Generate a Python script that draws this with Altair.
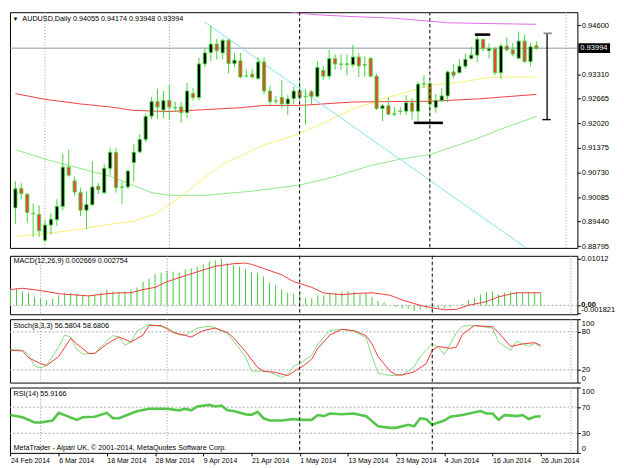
import altair as alt
import pandas as pd

# ---------------- data (AUDUSD daily, bars 0..88 = 24 Feb .. 26 Jun 2014)
OPEN = [0.8980,0.9031,0.9016,0.8966,0.8963,0.8895,0.8935,0.8949,0.8984,0.9087,
        0.9051,0.9020,0.8974,0.8988,0.9037,0.9020,0.9084,0.9126,0.9034,0.9035,
        0.9099,0.9127,0.9160,0.9221,0.9259,0.9237,0.9262,0.9243,0.9245,0.9230,
        0.9280,0.9270,0.9358,0.9388,0.9410,0.9387,0.9420,0.9359,0.9366,0.9326,
        0.9331,0.9320,0.9363,0.9287,0.9261,0.9270,0.9253,0.9267,0.9287,0.9273,
        0.9285,0.9273,0.9341,0.9326,0.9372,0.9358,0.9357,0.9356,0.9376,0.9355,
        0.9372,0.9326,0.9241,0.9248,0.9226,0.9233,0.9234,0.9256,0.9234,0.9306,
        0.9306,0.9244,0.9262,0.9274,0.9337,0.9335,0.9352,0.9372,0.9381,0.9422,
        0.9393,0.9398,0.9335,0.9405,0.9395,0.9373,0.9418,0.9364,0.94055]
HIGH = [0.9050,0.9045,0.9018,0.8991,0.8987,0.8947,0.8966,0.9003,0.9122,0.9133,
        0.9062,0.9033,0.9024,0.9103,0.9045,0.9095,0.9137,0.9137,0.9049,0.9078,
        0.9148,0.9174,0.9228,0.9271,0.9293,0.9287,0.9303,0.9258,0.9258,0.9308,
        0.9295,0.9374,0.9401,0.9459,0.9424,0.9424,0.9423,0.9387,0.9387,0.9343,
        0.9345,0.9376,0.9376,0.9301,0.9274,0.9316,0.9276,0.9298,0.9312,0.9291,
        0.9289,0.9366,0.9353,0.9395,0.9383,0.9383,0.9383,0.9408,0.9387,0.9378,
        0.9376,0.9333,0.9253,0.9270,0.9245,0.9245,0.9276,0.9268,0.9312,0.9328,
        0.9312,0.9279,0.9295,0.9341,0.9358,0.9370,0.9385,0.9403,0.9433,0.9424,
        0.9412,0.9402,0.9412,0.9428,0.9413,0.9443,0.9435,0.9412,0.94174]
LOW = [0.8938,0.9003,0.8941,0.8903,0.8903,0.8891,0.8910,0.8933,0.8974,0.9062,
       0.9012,0.8958,0.8924,0.8988,0.9016,0.9016,0.9066,0.9020,0.8991,0.9030,
       0.9049,0.9124,0.9153,0.9213,0.9214,0.9216,0.9212,0.9233,0.9203,0.9216,
       0.9262,0.9262,0.9349,0.9366,0.9370,0.9370,0.9333,0.9349,0.9320,0.9323,
       0.9320,0.9316,0.9278,0.9249,0.9253,0.9241,0.9224,0.9253,0.9262,0.9199,
       0.9253,0.9268,0.9316,0.9318,0.9343,0.9343,0.9328,0.9349,0.9324,0.9324,
       0.9323,0.9237,0.9208,0.9223,0.9220,0.9224,0.9224,0.9212,0.9208,0.9295,
       0.9224,0.9230,0.9258,0.9258,0.9320,0.9333,0.9345,0.9370,0.9363,0.9391,
       0.9372,0.9328,0.9318,0.9391,0.9378,0.9370,0.9362,0.9352,0.93948]
CLOSE = [0.9030,0.9018,0.8968,0.8965,0.8920,0.8935,0.8950,0.8984,0.9087,0.9066,
         0.9022,0.8974,0.8989,0.9035,0.9028,0.9084,0.9126,0.9033,0.9035,0.9077,
         0.9126,0.9160,0.9220,0.9259,0.9245,0.9262,0.9245,0.9244,0.9230,0.9287,
         0.9270,0.9358,0.9387,0.9410,0.9393,0.9420,0.9359,0.9368,0.9324,0.9326,
         0.9324,0.9363,0.9287,0.9259,0.9260,0.9253,0.9266,0.9287,0.9270,0.9272,
         0.9273,0.9349,0.9326,0.9372,0.9358,0.9357,0.9358,0.9376,0.9353,0.9356,
         0.9326,0.9241,0.9248,0.9226,0.9227,0.9234,0.9256,0.9234,0.9305,0.9305,
         0.9253,0.9262,0.9274,0.9337,0.9328,0.9352,0.9370,0.9381,0.9423,0.9398,
         0.9398,0.9335,0.9405,0.9395,0.9384,0.9418,0.9364,0.9403,0.93994]

# moving averages (bar index, value)
MA_MAGENTA_BARS = [46, 48, 51, 56, 64, 70, 73, 80, 88]
MA_MAGENTA = [0.9496, 0.9491, 0.9487, 0.9483, 0.9478, 0.9470, 0.9466, 0.9464, 0.9462]
MA_RED_BARS = [0, 5, 11, 16, 20, 26, 32, 38, 42, 48, 57, 70, 78, 88]
MA_RED = [0.9280, 0.9265, 0.9253, 0.9245, 0.9236, 0.9233, 0.9238, 0.9243, 0.9249, 0.9249,
          0.9258, 0.9260, 0.9266, 0.9278]
MA_GREEN_BARS = [0, 5, 16, 23, 26, 32, 40, 48, 53, 60, 65, 70, 78, 82, 88]
MA_GREEN = [0.9133, 0.9108, 0.9063, 0.9020, 0.9013, 0.9013, 0.9024, 0.9040, 0.9058, 0.9091,
            0.9108, 0.9120, 0.9162, 0.9187, 0.9220]
MA_YELLOW_BARS = [0, 5, 9, 16, 20, 24, 26, 28, 32, 35, 42, 48, 53, 57, 63, 70, 76, 80, 88]
MA_YELLOW = [0.8905, 0.8913, 0.8920, 0.8937, 0.8945, 0.8966, 0.8990, 0.9010, 0.9060, 0.9095,
             0.9145, 0.9175, 0.9210, 0.9240, 0.9270, 0.9302, 0.9312, 0.9323, 0.9324]

# drawn objects
TREND_BARS = [31.95, 86.1]
TREND_PRICES = [0.9468, 0.88768]
MARK_FROM = [77.6, 67.3]
MARK_TO = [80.2, 72.2]
MARK_PRICE = [0.9435, 0.92033]
BRACKET_BAR = [89.8]
BRACKET_TOP = [0.94383]
BRACKET_BOTTOM = [0.92118]
GRID_BARS = [5, 26, 48, 70, 93]
VLINE_BARS = [48, 70]

# MACD
MACD_HIST = [0.00358,0.00372,0.00303,0.00275,0.00186,0.00151,0.00117,0.00138,0.00220,0.00275,
             0.00275,0.00255,0.00220,0.00220,0.00234,0.00275,0.00344,0.00303,0.00289,0.00303,
             0.00344,0.00392,0.00516,0.00578,0.00688,0.00716,0.00757,0.00736,0.00716,0.00784,
             0.00805,0.00839,0.00894,0.00963,0.00977,0.01012,0.00922,0.00874,0.00839,0.00784,
             0.00722,0.00716,0.00633,0.00495,0.00440,0.00344,0.00275,0.00255,0.00255,0.00165,
             0.00151,0.00220,0.00220,0.00255,0.00275,0.00303,0.00303,0.00303,0.00234,0.00255,
             0.00186,0.00096,0.00069,0.00005,-0.00041,-0.00069,-0.00069,-0.00124,-0.00089,-0.00069,
             -0.00089,-0.00055,-0.00069,-0.00041,-0.00005,0.00028,0.00117,0.00165,0.00234,0.00289,
             0.00303,0.00234,0.00275,0.00303,0.00285,0.00282,0.00280,0.00278,0.002669]
MACD_SIG_BARS = [0,2,5,8,10,13,16,18,20,22,24,26,29,32,34,37,39,40,42,45,
                 47,50,52,55,57,60,63,65,68,70,72,74,76,79,81,84,88]
MACD_SIG = [0.00344,0.00372,0.00323,0.00255,0.00234,0.00206,0.00255,0.00275,0.00275,0.00344,
            0.00392,0.00516,0.00647,0.00771,0.00853,0.00908,0.00922,0.00894,0.00805,0.00667,
            0.00516,0.00392,0.00268,0.00234,0.00255,0.00275,0.00220,0.00117,0.00000,-0.00055,
            -0.00096,-0.00089,0.00000,0.00083,0.00186,0.00275,0.002754]
MACD_MAX = 0.01012
MACD_MIN = -0.001821

# Stochastic
STOCH_K_BARS = [0,2,3,4,5,6,8,9,10,11,12,14,16,17,18,19,20,21,23,24,26,28,29,31,33,34,36,37,39,40,
                42,43,45,46,47,48,50,51,53,55,57,59,60,61,63,65,66,67,68,70,71,72,73,74,75,77,80,81,
                83,84,85,86,87,88]
STOCH_K = [52,51,44,26,23,27,56,75,72,52,45,46,66,74,72,59,64,81,92,90,87,75,75,86,89,86,77,66,41,18,
           18,17,8,13,26,30,43,61,82,84,81,71,41,15,11,12,18,25,41,61,56,44,61,79,89,90,86,64,
           51,65,61,57,62,56.5804]
STOCH_D_BARS = [0,2,3,5,6,8,10,11,13,14,16,18,20,22,23,25,27,30,32,34,36,37,39,41,42,44,46,47,49,50,
                51,53,55,57,59,60,61,63,64,65,67,69,70,71,73,74,75,77,80,81,83,85,87,88]
STOCH_D = [51,50,39,30,27,41,70,61,46,46,61,72,64,75,90,90,79,72,82,86,79,71,49,24,18,16,11,17,29,37,
           54,75,84,82,74,61,41,18,12,12,17,30,51,57,54,56,76,90,88,79,57,61,63,58.6806]
STOCH_LEVELS = [20, 80]

# RSI
RSI_BARS = [0,2,4,5,7,8,9,11,12,14,16,17,18,20,21,23,25,26,28,29,30,31,33,34,35,36,37,39,40,41,
            42,43,45,47,48,50,51,52,53,55,57,58,59,61,63,64,66,67,68,69,70,71,72,73,75,78,79,80,
            81,82,84,85,86,87,88]
RSI = [57.8,54.4,46.6,46.6,49.5,61.2,57.8,50.5,54.4,55.3,61.2,52.9,52.9,60.2,63.6,67.5,67.5,67.5,
       65.1,67.5,65.1,71.0,73.4,71.0,72.4,65.1,64.1,59.2,58.2,62.7,52.9,49.5,49.5,51.9,50.5,50.5,
       57.8,56.3,60.2,59.2,60.2,57.8,56.3,40.7,38.3,38.3,43.1,40.7,52.9,51.4,43.1,46.6,49.5,55.3,
       57.8,64.1,60.2,60.2,50.5,57.8,56.3,57.8,51.9,55.3,55.9166]
RSI_LEVELS = [30, 70]

# axes
PRICE_TICKS = [0.94600, 0.93310, 0.92665, 0.92020, 0.91375, 0.90730, 0.90085, 0.89440, 0.88795]
DATE_TICK_BARS = [0, 8, 16, 24, 32, 40, 48, 56, 64, 72, 80, 88]
DATE_LABELS = ["24 Feb 2014", "6 Mar 2014", "18 Mar 2014", "28 Mar 2014", "9 Apr 2014",
               "21 Apr 2014", "1 May 2014", "13 May 2014", "23 May 2014", "4 Jun 2014",
               "16 Jun 2014", "26 Jun 2014"]

SYMBOL = "AUDUSD,Daily"
COPYRIGHT = "MetaTrader - Alpari UK, \u00a9 2001-2014, MetaQuotes Software Corp."

# ---------------- styling / layout
W = 573
H_MAIN, H_MACD, H_STO, H_RSI = 238, 59, 64, 66
FONT = "Liberation Sans"
GREEN = "#45d63a"
BODY_RED = "#e8452f"
LINE_RED = "#ef3b3b"
TITLE_SIZE = 7.3
LABEL_SIZE = 7.6

xs = alt.Scale(domain=[-0.08, 94.08], nice=False, zero=False)


def right_axis(values, **kw):
    base = dict(orient="right", values=values, title=None, grid=False, domain=False, tickSize=3,
                tickColor="black", labelPadding=1, labelFont=FONT, labelFontSize=LABEL_SIZE,
                labelColor="black", labelOverlap=False, labelBound=False)
    base.update(kw)
    return alt.Axis(**base)


AX_MAIN = right_axis(PRICE_TICKS, format=".5f", labelFlush=False)
AX_MACD = right_axis([MACD_MIN, 0.0, MACD_MAX], labels=False)
AX_STO = right_axis([0, 20, 80, 100], labelFlush=True)
AX_RSI = right_axis([0, 30, 70, 100], labelFlush=True)

s_main = alt.Scale(domain=[0.8875, 0.949375], nice=False, zero=False)
s_macd = alt.Scale(domain=[-0.00194, 0.0108], nice=False, zero=False)
s_100 = alt.Scale(domain=[0, 100], nice=False, zero=False)


def mk_y(scale, axis):
    return lambda f: alt.Y(f"{f}:Q", scale=scale, axis=axis)


def mk_x(axis):
    return lambda f: alt.X(f"{f}:Q", scale=xs, axis=axis)


def label(text, x, y, size=TITLE_SIZE, color="black"):
    return alt.Chart(pd.DataFrame({"t": [text]})).mark_text(
        align="left", baseline="middle", font=FONT, fontSize=size, color=color
    ).encode(x=alt.value(x), y=alt.value(y), text="t:N")


def separators(X):
    g = alt.Chart(pd.DataFrame({"i": GRID_BARS})).mark_rule(
        color="#9a9a9a", strokeDash=[1, 2], strokeWidth=1).encode(x=X("i"))
    v = alt.Chart(pd.DataFrame({"i": VLINE_BARS})).mark_rule(
        color="black", strokeDash=[3, 3], strokeWidth=1).encode(x=X("i"))
    return g, v


def line(bars, vals, X, Y, color, width=1.0):
    return alt.Chart(pd.DataFrame({"i": bars, "v": vals})).mark_line(
        color=color, strokeWidth=width, clip=True).encode(x=X("i"), y=Y("v"))


# ---------------- main price panel
XN = mk_x(None)
YM = mk_y(s_main, AX_MAIN)
candles = pd.DataFrame({"i": list(range(len(OPEN))), "o": OPEN, "h": HIGH, "l": LOW, "c": CLOSE})

grid_m, vline_m = separators(XN)
wicks = alt.Chart(candles).mark_rule(color=GREEN, strokeWidth=1).encode(
    x=XN("i"), y=YM("l"), y2="h:Q")
bodies = alt.Chart(candles).mark_bar(width=3.2, stroke=GREEN, strokeWidth=0.9).encode(
    x=XN("i"), y=YM("o"), y2="c:Q",
    fill=alt.condition("datum.c >= datum.o", alt.value("black"), alt.value(BODY_RED)))
price_line = alt.Chart(pd.DataFrame({"p": [CLOSE[-1]]})).mark_rule(
    color="#8796a6", strokeWidth=1).encode(y=YM("p"))
trend = line(TREND_BARS, TREND_PRICES, XN, YM, "#86e2f0")
markers = alt.Chart(pd.DataFrame({"a": MARK_FROM, "b": MARK_TO, "p": MARK_PRICE})).mark_rule(
    color="black", strokeWidth=2.6).encode(x=XN("a"), x2="b:Q", y=YM("p"))
bracket_df = pd.DataFrame({"i": BRACKET_BAR, "t": BRACKET_TOP, "b": BRACKET_BOTTOM})
bracket = alt.Chart(bracket_df).mark_rule(color="black", strokeWidth=1.3).encode(
    x=XN("i"), y=YM("t"), y2="b:Q")
cap_top = alt.Chart(bracket_df).transform_calculate(a="datum.i - 0.6", c="datum.i + 0.8").mark_rule(
    color="#8a8a8a", strokeWidth=1.8).encode(x=XN("a"), x2="c:Q", y=YM("t"))
cap_bot = alt.Chart(bracket_df).transform_calculate(a="datum.i - 0.8", c="datum.i + 0.6").mark_rule(
    color="black", strokeWidth=1.4).encode(x=XN("a"), x2="c:Q", y=YM("b"))
box_df = pd.DataFrame({"p": [CLOSE[-1]], "t": [f"{CLOSE[-1]:.5f}"]})
box = alt.Chart(box_df).mark_rule(color="black", strokeWidth=10).encode(
    x=alt.value(W + 1), x2=alt.value(W + 33), y=YM("p"))
box_text = alt.Chart(box_df).mark_text(align="left", baseline="middle", font=FONT,
                                       fontSize=LABEL_SIZE, color="white").encode(
    x=alt.value(W + 3), y=YM("p"), text="t:N")
tri = label("\u25bc", 2.5, 7, size=6)
title_main = label(f"{SYMBOL} {OPEN[-1]:.5f} {HIGH[-1]:.5f} {LOW[-1]:.5f} {CLOSE[-1]:.5f}", 12.5, 7)

main = alt.layer(
    grid_m, price_line,
    line(MA_GREEN_BARS, MA_GREEN, XN, YM, "#8ee88a"),
    line(MA_YELLOW_BARS, MA_YELLOW, XN, YM, "#f6f070"),
    line(MA_RED_BARS, MA_RED, XN, YM, "#ee4040"),
    line(MA_MAGENTA_BARS, MA_MAGENTA, XN, YM, "#e26ce6"),
    trend, wicks, bodies, vline_m, markers, bracket, cap_top, cap_bot, box, box_text,
    tri, title_main,
).properties(width=W, height=H_MAIN)

# ---------------- MACD panel
YD = mk_y(s_macd, AX_MACD)
grid_d, vline_d = separators(XN)
hist = alt.Chart(pd.DataFrame({"i": list(range(len(MACD_HIST))), "v": MACD_HIST,
                               "z": [0.0] * len(MACD_HIST)})).mark_rule(
    color="#48c840", strokeWidth=1).encode(x=XN("i"), y=YD("z"), y2="v:Q")
zero_line = alt.Chart(pd.DataFrame({"v": [0.0]})).mark_rule(
    color="#a8a8a8", strokeDash=[2, 2]).encode(y=YD("v"))


def macd_label(v, text, baseline, weight="normal"):
    return alt.Chart(pd.DataFrame({"v": [v], "t": [text]})).mark_text(
        align="left", baseline=baseline, font=FONT, fontSize=LABEL_SIZE, color="black",
        fontWeight=weight).encode(x=alt.value(W + 4), y=YD("v"), text="t:N")


macd = alt.layer(
    grid_d, zero_line, hist, line(MACD_SIG_BARS, MACD_SIG, XN, YD, LINE_RED), vline_d,
    macd_label(MACD_MAX, f"{MACD_MAX:.5f}", "middle"),
    macd_label(0.0, "0.00", "middle", "bold"),
    macd_label(MACD_MIN, f"{MACD_MIN:.6f}", "bottom"),
    label(f"MACD(12,26,9) {MACD_HIST[-1]:.6f} {MACD_SIG[-1]:.6f}", 3.5, 5.5),
).properties(width=W, height=H_MACD)

# ---------------- Stochastic panel
YS = mk_y(s_100, AX_STO)
grid_s, vline_s = separators(XN)
lv_s = alt.Chart(pd.DataFrame({"v": STOCH_LEVELS})).mark_rule(
    color="#a8a8a8", strokeDash=[2, 2]).encode(y=YS("v"))
sto = alt.layer(
    grid_s, lv_s,
    line(STOCH_K_BARS, STOCH_K, XN, YS, "#86de7e"),
    line(STOCH_D_BARS, STOCH_D, XN, YS, LINE_RED),
    vline_s,
    label(f"Stoch(8,3,3) {STOCH_K[-1]:.4f} {STOCH_D[-1]:.4f}", 3.5, 6.7),
).properties(width=W, height=H_STO)

# ---------------- RSI panel (carries the date axis)
date_expr = "[" + ",".join("'%s'" % s for s in DATE_LABELS) + "][round(datum.value / 8)]"
AX_DATE = alt.Axis(orient="bottom", values=DATE_TICK_BARS, labelExpr=date_expr, labelAlign="left",
                   labelBaseline="top", labelFont=FONT, labelFontSize=7, labelColor="black",
                   tickSize=3, tickColor="black", labelPadding=1, domain=False,
                   grid=False, title=None, labelOverlap=False, labelFlush=False, labelBound=False)
XR = mk_x(AX_DATE)
YR = mk_y(s_100, AX_RSI)
grid_r, vline_r = separators(XR)
lv_r = alt.Chart(pd.DataFrame({"v": RSI_LEVELS})).mark_rule(
    color="#a8a8a8", strokeDash=[2, 2]).encode(y=YR("v"))
rsi = alt.layer(
    grid_r, lv_r, line(RSI_BARS, RSI, XR, YR, "#55c64a", 2.6), vline_r,
    label(f"RSI(14) {RSI[-1]:.4f}", 3.5, 6.6),
    label(COPYRIGHT, 3.5, 61),
).properties(width=W, height=H_RSI)

chart = alt.vconcat(main, macd, sto, rsi, spacing=3).properties(
    padding={"left": 1, "top": 1, "right": 0, "bottom": 0}, background="white"
).configure_view(stroke="black", strokeWidth=1)

chart.save("out.html", embed_options={"renderer": "svg", "actions": False})
